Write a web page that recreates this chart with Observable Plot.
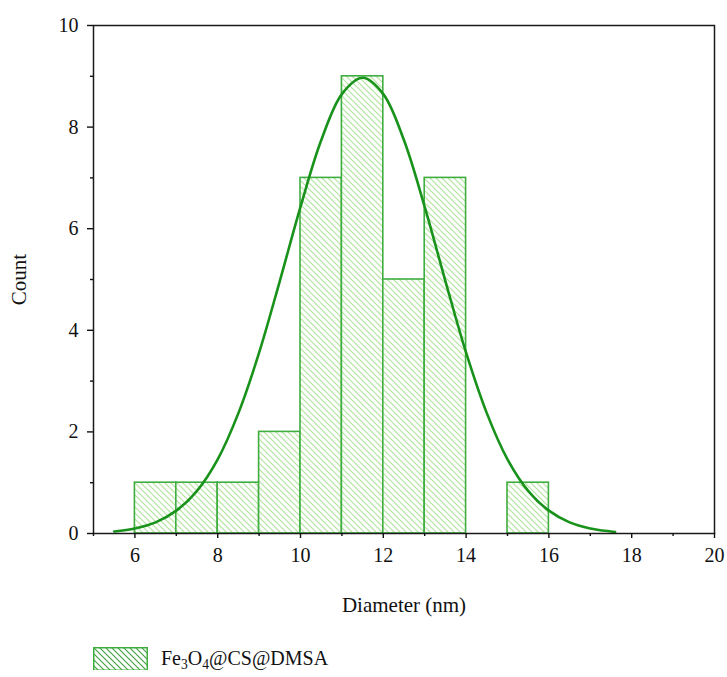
<!DOCTYPE html>
<html><head><meta charset="utf-8">
<script src="https://cdn.jsdelivr.net/npm/d3@7"></script>
<script src="https://cdn.jsdelivr.net/npm/@observablehq/plot@0.6"></script>
<style>
body{margin:0;background:#fff;font-family:"Liberation Serif","DejaVu Serif",serif;color:#111}
#legend{display:flex;align-items:center;margin-top:17px;padding-left:93px;height:23px}
#legend .txt{margin-left:13px;font-size:20px;line-height:23px}
#legend sub{font-size:68%;vertical-align:-0.28em;line-height:0}
</style>
</head><body><div id="chart"></div>
<div id="legend"><svg width="55" height="24"><defs><pattern id="hatchL" patternUnits="userSpaceOnUse" width="6" height="6"><path d="M-1,-1L7,7M-1,5L1,7M5,-1L7,1" stroke="#3f9f3f" stroke-width="1.1"/></pattern></defs><rect x="0.75" y="0.75" width="53.5" height="22.5" fill="url(#hatchL)" stroke="#3cae3c" stroke-width="1.5"/></svg><span class="txt">Fe<sub>3</sub>O<sub>4</sub>@CS@DMSA</span></div>
<script>
const binStart = [6, 7, 8, 9, 10, 11, 12, 13, 15];
const binEnd   = [7, 8, 9, 10, 11, 12, 13, 14, 16];
const counts   = [1, 1, 1, 2, 7, 9, 5, 7, 1];

const fitX = [5.5, 6, 6.5, 7, 7.5, 8, 8.5, 9, 9.5, 10, 10.5, 11, 11.5, 12, 12.5, 13, 13.5, 14, 14.5, 15, 15.5, 16, 16.5, 17, 17.5, 17.6];
const fitY = [0.04, 0.1, 0.22, 0.45, 0.84, 1.46, 2.37, 3.56, 4.97, 6.43, 7.74, 8.65, 8.97, 8.65, 7.74, 6.43, 4.97, 3.56, 2.37, 1.46, 0.84, 0.45, 0.22, 0.1, 0.04, 0.03];

const xTicks = [6, 8, 10, 12, 14, 16, 18, 20];
const xMinor = [5, 7, 9, 11, 13, 15, 17, 19];
const yTicks = [0, 2, 4, 6, 8, 10];
const yMinor = [1, 3, 5, 7, 9];

const bins = binStart.map((s, i) => ({x1: s, x2: binEnd[i], count: counts[i]}));
const fit = fitX.map((x, i) => ({x, y: fitY[i]}));

const plot = Plot.plot({
  width: 727,
  height: 630,
  marginLeft: 93,
  marginRight: 13,
  marginTop: 25,
  marginBottom: 97,
  style: {fontFamily: '"Liberation Serif","DejaVu Serif",serif', fontSize: "20px", color: "#111", background: "#fff"},
  x: {domain: [5, 20]},
  y: {domain: [0, 10]},
  marks: [
    Plot.rect(bins, {x1: "x1", x2: "x2", y1: 0, y2: "count", fill: "url(#hatch)", stroke: "#3fad3f", strokeWidth: 1.6}),
    Plot.line(fit, {x: "x", y: "y", curve: "catmull-rom", stroke: "#18921a", strokeWidth: 2.6}),
    Plot.frame({stroke: "#1a1a1a", strokeWidth: 1.5}),
    Plot.axisX({ticks: xTicks, tickSize: 5, tickPadding: 9, label: null, strokeWidth: 1.4}),
    Plot.axisX({ticks: xMinor, tickSize: 3, tickFormat: () => "", label: null, strokeWidth: 1.4}),
    Plot.axisY({ticks: yTicks, tickSize: 6, tickPadding: 9, label: null, strokeWidth: 1.4}),
    Plot.axisY({ticks: yMinor, tickSize: 3, tickFormat: () => "", label: null, strokeWidth: 1.4}),
    Plot.text(["Diameter (nm)"], {frameAnchor: "bottom", dy: 72, fontSize: 21, lineAnchor: "middle", textAnchor: "middle", fill: "#111"}),
    Plot.text(["Count"], {frameAnchor: "left", dx: -74, rotate: -90, fontSize: 21, lineAnchor: "middle", textAnchor: "middle", fill: "#111"})
  ]
});

const svg = plot.tagName.toLowerCase() === "svg" ? plot : plot.querySelector("svg");
const ns = "http://www.w3.org/2000/svg";
const defs = document.createElementNS(ns, "defs");
defs.innerHTML = '<pattern id="hatch" patternUnits="userSpaceOnUse" width="6" height="6"><rect width="6" height="6" fill="#fff"/><path d="M-1,-1L7,7M-1,5L1,7M5,-1L7,1" stroke="#b3e4a0" stroke-width="1.2"/></pattern>';
svg.insertBefore(defs, svg.firstChild);
document.getElementById("chart").appendChild(plot);
</script>
</body></html>
